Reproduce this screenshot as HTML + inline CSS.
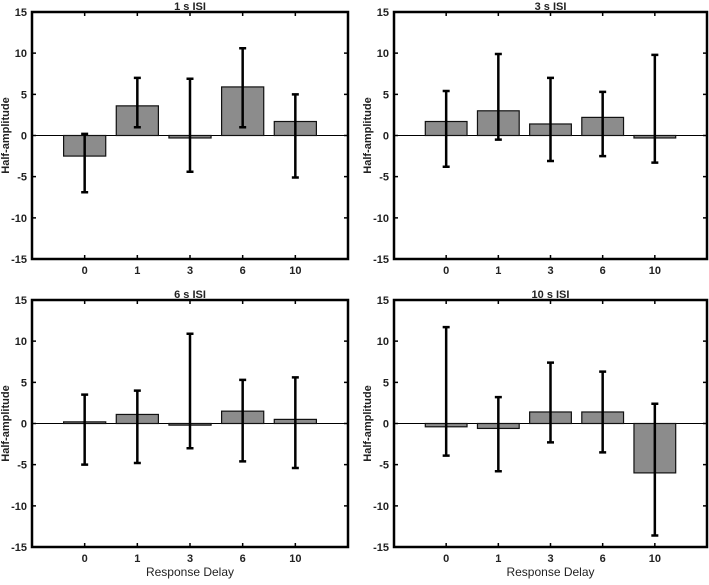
<!DOCTYPE html>
<html><head><meta charset="utf-8"><style>
body{margin:0;background:#fff}
svg text{font-family:"Liberation Sans",Arial,sans-serif;font-weight:bold;fill:#222}
</style></head><body>
<svg id="c" width="709" height="580" xmlns="http://www.w3.org/2000/svg"></svg>
<script>
const categories = ["0","1","3","6","10"];
const titles = ["1 s ISI","3 s ISI","6 s ISI","10 s ISI"];
const yTicks = [15,10,5,0,-5,-10,-15];
const means1 = [-2.5,3.6,-0.3,5.9,1.7];
const low1 = [-6.9,1.0,-4.4,1.0,-5.1];
const high1 = [0.2,7.0,6.9,10.6,5.0];
const means2 = [1.7,3.0,1.4,2.2,-0.3];
const low2 = [-3.8,-0.5,-3.1,-2.5,-3.3];
const high2 = [5.4,9.9,7.0,5.3,9.8];
const means3 = [0.2,1.1,-0.2,1.5,0.5];
const low3 = [-5.0,-4.8,-3.0,-4.6,-5.4];
const high3 = [3.5,4.0,10.9,5.3,5.6];
const means4 = [-0.4,-0.6,1.4,1.4,-6.0];
const low4 = [-3.9,-5.8,-2.3,-3.5,-13.6];
const high4 = [11.7,3.2,7.4,6.3,2.4];
const panels=[
 {x0:32,x1:348,y0:12,y1:259,m:means1,l:low1,h:high1,xl:false},
 {x0:394,x1:707,y0:12,y1:259,m:means2,l:low2,h:high2,xl:false},
 {x0:32,x1:348,y0:300,y1:547,m:means3,l:low3,h:high3,xl:true},
 {x0:394,x1:707,y0:300,y1:547,m:means4,l:low4,h:high4,xl:true}];
const svg=document.getElementById('c');
const NS='http://www.w3.org/2000/svg';
function mk(t,a,p){const e=document.createElementNS(NS,t);for(const k in a)e.setAttribute(k,a[k]);(p||svg).appendChild(e);return e;}
panels.forEach((P,i)=>{
 const g=mk('g',{});
 
 
 const ys=v=>P.y0+(15-v)/30*(P.y1-P.y0);
 const xs=k=>P.x0+(k+1)/6*(P.x1-P.x0);
 const bw=0.8*(P.x1-P.x0)/6;
 // zero line
 const z=mk('line',{x1:P.x0,x2:P.x1,y1:ys(0),y2:ys(0),stroke:'#000','stroke-width':1},g);
 
 
 categories.forEach((c,k)=>{
  const v=P.m[k];
  const r=mk('rect',{x:xs(k)-bw/2,y:Math.min(ys(v),ys(0)),width:bw,height:Math.abs(ys(v)-ys(0)),fill:'#8c8c8c',stroke:'#111','stroke-width':1.2},g);
  
  
  const eb=mk('path',{d:`M${xs(k)},${ys(P.l[k])}V${ys(P.h[k])}M${xs(k)-3.5},${ys(P.l[k])}h7M${xs(k)-3.5},${ys(P.h[k])}h7`,stroke:'#000','stroke-width':2.5,fill:'none'},g);
  
  
  // x ticks
  mk('path',{d:`M${xs(k)},${P.y1}v-4M${xs(k)},${P.y0}v4`,stroke:'#000','stroke-width':1.5},g);
  const t=mk('text',{x:xs(k),y:P.y1+15,'text-anchor':'middle','font-size':11},g);
  t.textContent=c;
  
  
 });
 yTicks.forEach(v=>{
  mk('path',{d:`M${P.x0},${ys(v)}h4M${P.x1},${ys(v)}h-4`,stroke:'#000','stroke-width':1.5},g);
  const t=mk('text',{x:P.x0-5,y:ys(v)+4,'text-anchor':'end','font-size':11},g);
  t.textContent=v;
  
  
 });
 const b=mk('rect',{x:P.x0,y:P.y0,width:P.x1-P.x0,height:P.y1-P.y0,fill:'none',stroke:'#000','stroke-width':2.5},g);
 
 
 const tt=mk('text',{x:(P.x0+P.x1)/2,y:P.y0-2,'text-anchor':'middle','font-size':11},g);
 tt.textContent=titles[i];
 
 
 const yl=mk('text',{x:0,y:0,'text-anchor':'middle','font-size':11,transform:`translate(${P.x0-23},${(P.y0+P.y1)/2}) rotate(-90)`},g);
 yl.textContent='Half-amplitude';
 
 
 if(P.xl){
  const xl=mk('text',{x:(P.x0+P.x1)/2,y:P.y1+29,'text-anchor':'middle','font-size':12,'font-weight':'normal'},g);
  xl.setAttribute('style','font-weight:normal');
  xl.textContent='Response Delay';
  
  
 }
});
</script>
</body></html>
